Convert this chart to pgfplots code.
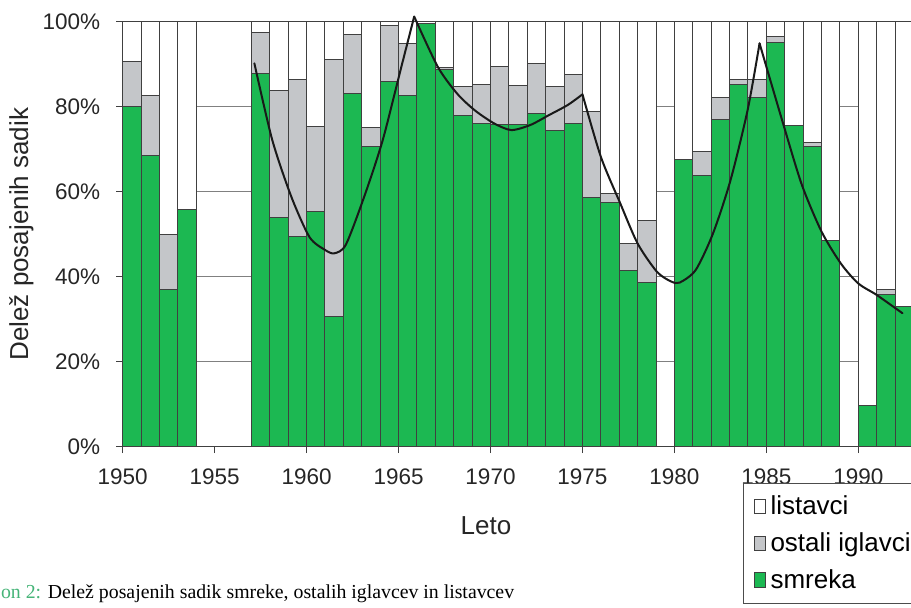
\documentclass[border=0pt]{standalone}
\usepackage{pgfplots}
\pgfplotsset{compat=1.18}
\usepackage{pgfplotstable}
\usepackage{fontspec}
\setmainfont{Liberation Sans}
\newfontfamily\capfont{Liberation Serif}
\definecolor{smreka}{RGB}{28,184,82}
\definecolor{ostali}{RGB}{196,198,201}
\definecolor{capgreen}{RGB}{70,180,120}
\pgfplotsset{sqlegend/.style={legend image code/.code={\draw[##1,draw=black!75,line width=0.5pt] (0pt,-3.6pt) rectangle (5.5pt,3.6pt);}}}
\pgfplotsset{trendline/.style={black!90, line width=1pt, mark=none, smooth, tension=0.45, line join=round, line cap=round}}

\pgfplotstableread{
x       g     o     l
1950.5  80.0  10.6  9.4
1951.5  68.6  14.1  17.3
1952.5  36.9  13.1  50.0
1953.5  55.8  0.0   44.2
1957.5  87.7  9.8   2.5
1958.5  54.0  29.9  16.1
1959.5  49.4  36.9  13.7
1960.5  55.3  20.0  24.7
1961.5  30.7  60.4  8.9
1962.5  83.1  13.9  3.0
1963.5  70.6  4.5   24.9
1964.5  85.9  13.3  0.8
1965.5  82.7  12.2  5.1
1966.5  99.5  0.0   0.5
1967.5  88.8  0.5   10.7
1968.5  78.0  6.7   15.3
1969.5  76.1  9.2   14.7
1970.5  75.9  13.5  10.6
1971.5  75.7  9.2   15.1
1972.5  78.3  11.9  9.8
1973.5  74.5  10.2  15.3
1974.5  76.1  11.4  12.5
1975.5  58.7  20.1  21.2
1976.5  57.5  2.0   40.5
1977.5  41.4  6.4   52.2
1978.5  38.6  14.7  46.7
1980.5  67.5  0.0   32.5
1981.5  63.8  5.6   30.6
1982.5  76.9  5.3   17.8
1983.5  85.3  1.0   13.7
1984.5  82.2  4.1   13.7
1985.5  95.1  1.5   3.4
1986.5  75.5  0.0   24.5
1987.5  70.6  0.9   28.5
1988.5  48.6  0.0   51.4
1990.5  9.8   0.0   90.2
1991.5  35.8  1.3   62.9
1992.5  32.9  0.0   67.1
}\bars

\pgfplotstableread{
x        y
1957.16  90.2
1958.13  72.2
1959.17  58.8
1960.16  49.3
1961.0   46.3
1961.5   45.5
1962.13  47.5
1963.13  58.8
1964.13  72.0
1965.1   88.5
1965.85  101.2
}\trendA
\pgfplotstableread{
x        y
1965.85  101.2
1967.13  89.4
1968.18  83.1
1969.13  79.2
1970.18  76.1
1971.13  74.5
1972.17  75.7
1973.17  78.0
1974.2   80.4
1975.0   82.9
}\trendB
\pgfplotstableread{
x        y
1975.0   82.9
1976.0   68.2
1977.05  57.3
1978.0   47.8
1979.04  41.2
1979.8   38.9
1980.28  38.6
1981.16  41.6
1982.1   50.2
1983.05  62.7
1983.98  79.2
1984.63  94.9
}\trendC
\pgfplotstableread{
x        y
1984.63  94.9
1985.0   89.4
1985.96  75.3
1986.93  61.6
1988.0   50.6
1989.05  43.1
1990.0   38.4
1991.0   35.7
1992.4   31.4
}\trendD

\begin{document}
\begin{tikzpicture}
\useasboundingbox (-61.35pt,-80.65pt) rectangle (394.15pt,223.35pt);
\clip (-61.35pt,-80.65pt) rectangle (394.15pt,223.35pt);
\begin{axis}[
  at={(0pt,0pt)}, anchor=south west,
  scale only axis, width=395.4pt, height=212.5pt,
  xmin=1950, xmax=1993, ymin=0, ymax=100,
  clip=false,
  ybar stacked, bar width=1,
  xtick={1950,1955,...,1990},
  ytick={0,20,...,100},
  yticklabel={\pgfmathprintnumber{\tick}\%},
  /pgf/number format/assume math mode=true,
  xticklabel style={/pgf/number format/1000 sep={}, yshift=-4.5pt},
  yticklabel style={xshift=-4.5pt},
  tick label style={font=\fontsize{11.25}{13}\selectfont, text=black!85},
  tick align=outside, tick pos=left,
  major tick length=3.2pt,
  every tick/.style={black!75, line width=0.5pt},
  axis line style={black!75, line width=0.5pt},
  ymajorgrids, major grid style={black!50, line width=0.5pt},
  axis on top=false,
  xlabel={Leto}, ylabel={Delež posajenih sadik},
  label style={font=\fontsize{13}{15}\selectfont, text=black!85},
  xlabel style={at={(axis description cs:0.4594,-0.1868)}, anchor=center},
  ylabel style={at={(axis description cs:-0.128,0.5)}, anchor=center},
  reverse legend,
  legend cell align=left,
  legend style={at={(axis description cs:0,0)}, anchor=north west,
    xshift=310.15pt, yshift=-18.15pt,
    draw=black!70, line width=0.5pt, fill=white,
    font=\fontsize{13}{15}\selectfont,
    inner xsep=5pt, inner ysep=4pt, row sep=3.5pt,
    nodes={inner xsep=2.5pt}},
]
\addplot+[fill=smreka, draw=black!75, line width=0.5pt, sqlegend] table[x=x,y=g]{\bars};
\addplot+[fill=ostali, draw=black!75, line width=0.5pt, sqlegend] table[x=x,y=o]{\bars};
\addplot+[fill=white, draw=black!75, line width=0.5pt, sqlegend] table[x=x,y=l]{\bars};
\legend{smreka,ostali iglavci,listavci}
\end{axis}
\begin{axis}[
  at={(0pt,0pt)}, anchor=south west,
  scale only axis, width=395.4pt, height=212.5pt,
  xmin=1950, xmax=1993, ymin=0, ymax=100,
  clip=false, axis lines=none,
]
\addplot[trendline] table[x=x,y=y]{\trendA};
\addplot[trendline] table[x=x,y=y]{\trendB};
\addplot[trendline] table[x=x,y=y]{\trendC};
\addplot[trendline] table[x=x,y=y]{\trendD};
\end{axis}
\node[anchor=base west, inner sep=0pt, font=\capfont\fontsize{9.9}{11}\selectfont] at (-61pt,-76.15pt)
  {{\color{capgreen}on 2:} Delež posajenih sadik smreke, ostalih iglavcev in listavcev};
\end{tikzpicture}
\end{document}
